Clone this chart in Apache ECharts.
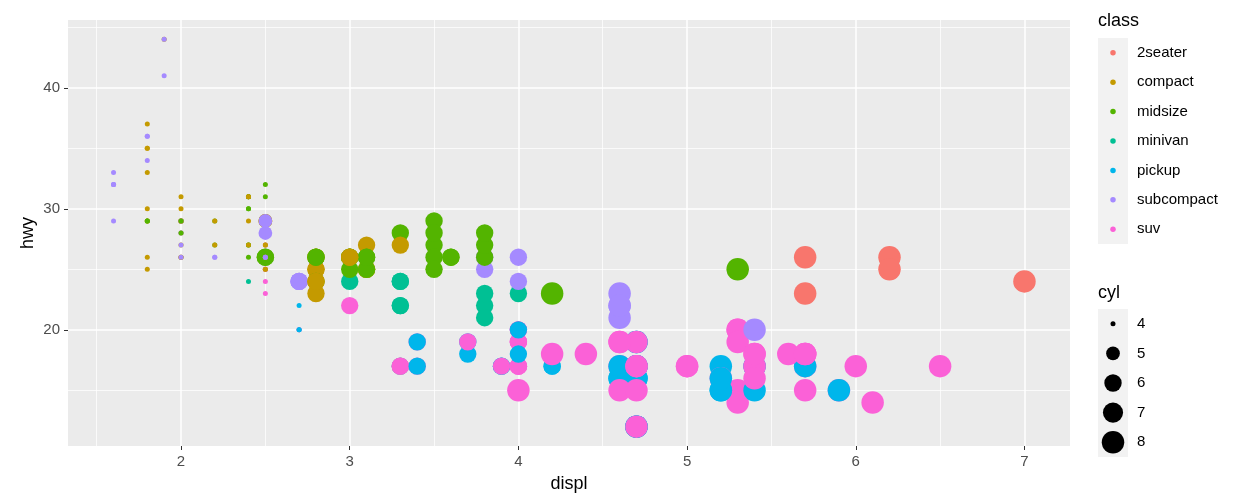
<!DOCTYPE html>
<html>
<head>
<meta charset="utf-8">
<script src="https://cdn.jsdelivr.net/npm/echarts@6/dist/echarts.min.js"></script>
<style>
html, body { margin: 0; padding: 0; background: #fff; }
#chart { width: 1233px; height: 502px; }
</style>
</head>
<body>
<div id="chart"></div>
<script>
var classes = ['2seater', 'compact', 'midsize', 'minivan', 'pickup', 'subcompact', 'suv'];
var classColors = ['#F8766D', '#C49A00', '#53B400', '#00C094', '#00B6EB', '#A58AFF', '#FB61D7'];
var cylLevels = [4, 5, 6, 7, 8];
var xMajor = [2, 3, 4, 5, 6, 7];
var xMinor = [1.5, 2.5, 3.5, 4.5, 5.5, 6.5];
var yMajor = [20, 30, 40];
var yMinor = [15, 25, 35, 45];

// mpg rows, in data order
var displ = [
    1.8, 1.8, 2.0, 2.0, 2.8, 2.8, 3.1, 1.8, 1.8, 2.0, 2.0, 2.8, 2.8, 3.1, 3.1,
    2.8, 3.1, 4.2,
    5.3, 5.3, 5.3, 5.7, 6.0,
    5.7, 5.7, 6.2, 6.2, 7.0,
    5.3, 5.3, 5.7, 6.5,
    2.4, 2.4, 3.1, 3.5, 3.6,
    2.4, 3.0, 3.3, 3.3, 3.3, 3.3, 3.3, 3.8, 3.8, 3.8, 4.0,
    3.7, 3.7, 3.9, 3.9, 4.7, 4.7, 4.7, 5.2, 5.2,
    3.9, 4.7, 4.7, 4.7, 5.2, 5.7, 5.9,
    4.7, 4.7, 4.7, 4.7, 4.7, 4.7, 5.2, 5.2, 5.7, 5.9,
    4.6, 5.4, 5.4,
    4.0, 4.0, 4.0, 4.0, 4.6, 5.0,
    4.2, 4.2, 4.6, 4.6, 4.6, 5.4, 5.4,
    3.8, 3.8, 4.0, 4.0, 4.6, 4.6, 4.6, 4.6, 5.4,
    1.6, 1.6, 1.6, 1.6, 1.6, 1.8, 1.8, 1.8, 2.0,
    2.4, 2.4, 2.4, 2.4, 2.5, 2.5, 3.3,
    2.0, 2.0, 2.0, 2.0, 2.7, 2.7, 2.7,
    3.0, 3.7, 4.0, 4.7, 4.7, 4.7, 5.7, 6.1,
    4.0, 4.2, 4.4, 4.6,
    5.4, 5.4, 5.4,
    4.0, 4.0, 4.6, 5.0,
    2.4, 2.4, 2.5, 2.5, 3.5, 3.5,
    3.0, 3.0, 3.5,
    3.3, 3.3, 4.0, 5.6,
    3.1, 3.8, 3.8, 3.8, 5.3,
    2.5, 2.5, 2.5, 2.5, 2.5, 2.5,
    2.2, 2.2, 2.5, 2.5, 2.5, 2.5, 2.5, 2.5,
    2.7, 2.7, 3.4, 3.4, 4.0, 4.7,
    2.2, 2.2, 2.4, 2.4, 3.0, 3.0, 3.5,
    2.2, 2.2, 2.4, 2.4, 3.0, 3.0, 3.3,
    1.8, 1.8, 1.8, 1.8, 1.8,
    4.7, 5.7,
    2.7, 2.7, 2.7, 3.4, 3.4, 4.0, 4.0,
    2.0, 2.0, 2.0, 2.0, 2.8,
    1.9, 2.0, 2.0, 2.0, 2.0, 2.5, 2.5, 2.8, 2.8,
    1.9, 1.9, 2.0, 2.0, 2.5, 2.5,
    1.8, 1.8, 2.0, 2.0, 2.8, 2.8, 3.6
];
var hwy = [
    29, 29, 31, 30, 26, 26, 27, 26, 25, 28, 27, 25, 25, 25, 25,
    24, 25, 23,
    20, 15, 20, 17, 17,
    26, 23, 26, 25, 24,
    19, 14, 15, 17,
    27, 30, 26, 29, 26,
    24, 24, 22, 22, 24, 24, 17, 22, 21, 23, 23,
    19, 18, 17, 17, 19, 19, 12, 17, 15,
    17, 17, 12, 17, 16, 18, 15,
    16, 12, 17, 17, 16, 12, 15, 16, 17, 15,
    17, 17, 18,
    17, 19, 17, 19, 19, 17,
    17, 17, 16, 16, 17, 15, 17,
    26, 25, 26, 24, 21, 22, 23, 22, 20,
    33, 32, 32, 29, 32, 34, 36, 36, 29,
    26, 27, 30, 31, 26, 26, 28,
    26, 29, 28, 27, 24, 24, 24,
    22, 19, 20, 17, 12, 19, 18, 14,
    15, 18, 18, 15,
    17, 16, 18,
    17, 19, 19, 17,
    29, 27, 31, 32, 27, 26,
    26, 25, 25,
    17, 17, 20, 18,
    26, 26, 27, 28, 25,
    25, 24, 27, 25, 26, 23,
    26, 26, 26, 26, 25, 27, 25, 27,
    20, 20, 19, 17, 20, 17,
    29, 27, 31, 31, 26, 26, 28,
    27, 29, 31, 31, 26, 26, 27,
    30, 33, 35, 37, 35,
    15, 18,
    20, 20, 22, 17, 19, 18, 20,
    29, 26, 29, 29, 24,
    44, 29, 26, 29, 29, 29, 29, 23, 24,
    44, 41, 29, 26, 28, 29,
    29, 29, 28, 29, 26, 26, 26
];
var cyl = [
    4, 4, 4, 4, 6, 6, 6, 4, 4, 4, 4, 6, 6, 6, 6,
    6, 6, 8,
    8, 8, 8, 8, 8,
    8, 8, 8, 8, 8,
    8, 8, 8, 8,
    4, 4, 6, 6, 6,
    4, 6, 6, 6, 6, 6, 6, 6, 6, 6, 6,
    6, 6, 6, 6, 8, 8, 8, 8, 8,
    6, 8, 8, 8, 8, 8, 8,
    8, 8, 8, 8, 8, 8, 8, 8, 8, 8,
    8, 8, 8,
    6, 6, 6, 6, 8, 8,
    6, 6, 8, 8, 8, 8, 8,
    6, 6, 6, 6, 8, 8, 8, 8, 8,
    4, 4, 4, 4, 4, 4, 4, 4, 4,
    4, 4, 4, 4, 6, 6, 6,
    4, 4, 4, 4, 6, 6, 6,
    6, 6, 6, 8, 8, 8, 8, 8,
    8, 8, 8, 8,
    8, 8, 8,
    6, 6, 8, 8,
    4, 4, 4, 4, 6, 6,
    6, 6, 6,
    6, 6, 6, 8,
    6, 6, 6, 6, 8,
    4, 4, 4, 4, 4, 4,
    4, 4, 4, 4, 4, 4, 4, 4,
    4, 4, 6, 6, 6, 8,
    4, 4, 4, 4, 6, 6, 6,
    4, 4, 4, 4, 6, 6, 6,
    4, 4, 4, 4, 4,
    8, 8,
    4, 4, 4, 6, 6, 6, 6,
    4, 4, 4, 4, 6,
    4, 4, 4, 4, 4, 5, 5, 6, 6,
    4, 4, 4, 4, 5, 5,
    4, 4, 4, 4, 6, 6, 6
];
var cls = [
    'compact', 'compact', 'compact', 'compact', 'compact', 'compact', 'compact', 'compact',
    'compact', 'compact', 'compact', 'compact', 'compact', 'compact', 'compact',
    'midsize', 'midsize', 'midsize',
    'suv', 'suv', 'suv', 'suv', 'suv',
    '2seater', '2seater', '2seater', '2seater', '2seater',
    'suv', 'suv', 'suv', 'suv',
    'midsize', 'midsize', 'midsize', 'midsize', 'midsize',
    'minivan', 'minivan', 'minivan', 'minivan', 'minivan', 'minivan', 'minivan', 'minivan',
    'minivan', 'minivan', 'minivan',
    'pickup', 'pickup', 'pickup', 'pickup', 'pickup', 'pickup', 'pickup', 'pickup', 'pickup',
    'suv', 'suv', 'suv', 'suv', 'suv', 'suv', 'suv',
    'pickup', 'pickup', 'pickup', 'pickup', 'pickup', 'pickup', 'pickup', 'pickup', 'pickup', 'pickup',
    'suv', 'suv', 'suv', 'suv', 'suv', 'suv', 'suv', 'suv', 'suv',
    'pickup', 'pickup', 'pickup', 'pickup', 'pickup', 'pickup', 'pickup',
    'subcompact', 'subcompact', 'subcompact', 'subcompact', 'subcompact', 'subcompact',
    'subcompact', 'subcompact', 'subcompact', 'subcompact', 'subcompact', 'subcompact',
    'subcompact', 'subcompact', 'subcompact', 'subcompact', 'subcompact', 'subcompact',
    'midsize', 'midsize', 'midsize', 'midsize', 'midsize', 'midsize', 'midsize',
    'subcompact', 'subcompact', 'subcompact', 'subcompact', 'subcompact', 'subcompact', 'subcompact',
    'suv', 'suv', 'suv', 'suv', 'suv', 'suv', 'suv', 'suv', 'suv', 'suv',
    'suv', 'suv', 'suv', 'suv', 'suv', 'suv', 'suv', 'suv', 'suv',
    'compact', 'compact',
    'midsize', 'midsize', 'midsize', 'midsize', 'midsize', 'midsize', 'midsize',
    'suv', 'suv', 'suv', 'suv',
    'midsize', 'midsize', 'midsize', 'midsize', 'midsize',
    'suv', 'suv', 'suv', 'suv', 'suv', 'suv',
    'subcompact', 'subcompact', 'subcompact', 'subcompact',
    'compact', 'compact', 'compact', 'compact',
    'suv', 'suv', 'suv', 'suv', 'suv', 'suv',
    'midsize', 'midsize', 'midsize', 'midsize', 'midsize', 'midsize', 'midsize',
    'compact', 'compact', 'compact', 'compact', 'compact', 'compact',
    'compact', 'compact', 'compact', 'compact', 'compact', 'compact',
    'suv', 'suv',
    'pickup', 'pickup', 'pickup', 'pickup', 'pickup', 'pickup', 'pickup',
    'compact', 'compact', 'compact', 'compact', 'compact', 'compact', 'compact',
    'compact', 'compact', 'compact', 'compact', 'compact', 'compact', 'compact',
    'subcompact', 'subcompact', 'subcompact', 'subcompact', 'subcompact', 'subcompact',
    'midsize', 'midsize', 'midsize', 'midsize', 'midsize', 'midsize', 'midsize'
];

var font = "'Liberation Sans', Arial, sans-serif";

// point diameter grows with sqrt of cyl, like scale_size
function sizeFor(c) {
    return 5 + 17.5 * Math.sqrt((c - 4) / 4);
}

var points = displ.map(function (d, i) {
    return [d, hwy[i], cyl[i], classes.indexOf(cls[i])];
});

var myChart = echarts.init(document.getElementById('chart'));

var option = {
    animation: false,
    backgroundColor: '#FFFFFF',
    title: [
        { text: 'class', left: 1098, top: 12, padding: 0,
          textStyle: { fontSize: 18, fontWeight: 'normal', color: '#000', fontFamily: font } },
        { text: 'cyl', left: 1098, top: 284, padding: 0,
          textStyle: { fontSize: 18, fontWeight: 'normal', color: '#000', fontFamily: font } }
    ],
    grid: [
        { left: 68, top: 20, width: 1002, height: 426, show: true, backgroundColor: '#EBEBEB', borderWidth: 0 },
        { left: 1098, top: 38, width: 30, height: 206, show: true, backgroundColor: '#F2F2F2', borderWidth: 0 },
        { left: 1098, top: 309, width: 30, height: 148, show: true, backgroundColor: '#F2F2F2', borderWidth: 0 }
    ],
    xAxis: [
        {
            gridIndex: 0, type: 'value', min: 1.33, max: 7.27, position: 'bottom',
            axisLine: { show: false },
            axisTick: { show: true, customValues: xMajor, length: 4, lineStyle: { color: '#333333', width: 1 } },
            axisLabel: { customValues: xMajor, margin: 8, color: '#4D4D4D', fontSize: 15, fontFamily: font },
            splitLine: { show: true, lineStyle: { color: '#FFFFFF', width: 1.5 } },
            name: 'displ', nameLocation: 'middle', nameGap: 29,
            nameTextStyle: { fontSize: 18, color: '#000', fontFamily: font }
        },
        {
            gridIndex: 0, type: 'value', min: 1.33, max: 7.27, position: 'bottom',
            axisLine: { show: false },
            axisTick: { show: false, customValues: xMinor },
            axisLabel: { show: false, customValues: xMinor },
            splitLine: { show: true, lineStyle: { color: '#FFFFFF', width: 0.75 } }
        },
        { gridIndex: 1, type: 'value', min: 0, max: 1, show: false },
        { gridIndex: 2, type: 'value', min: 0, max: 1, show: false }
    ],
    yAxis: [
        {
            gridIndex: 0, type: 'value', min: 10.4, max: 45.6,
            axisLine: { show: false },
            axisTick: { show: true, customValues: yMajor, length: 4, lineStyle: { color: '#333333', width: 1 } },
            axisLabel: { customValues: yMajor, margin: 8, color: '#4D4D4D', fontSize: 15, fontFamily: font },
            splitLine: { show: true, lineStyle: { color: '#FFFFFF', width: 1.5 } },
            name: 'hwy', nameLocation: 'middle', nameGap: 31, nameRotate: 90, nameMoveOverlap: false,
            nameTextStyle: { fontSize: 18, color: '#000', fontFamily: font }
        },
        {
            gridIndex: 0, type: 'value', min: 10.4, max: 45.6,
            axisLine: { show: false },
            axisTick: { show: false, customValues: yMinor },
            axisLabel: { show: false, customValues: yMinor },
            splitLine: { show: true, lineStyle: { color: '#FFFFFF', width: 0.75 } }
        },
        {
            gridIndex: 1, type: 'category', data: classes, inverse: true, position: 'right',
            axisLine: { show: false }, axisTick: { show: false }, splitLine: { show: false },
            axisLabel: { margin: 9, color: '#000', fontSize: 15, fontFamily: font }
        },
        {
            gridIndex: 2, type: 'category', data: cylLevels.map(String), inverse: true, position: 'right',
            axisLine: { show: false }, axisTick: { show: false }, splitLine: { show: false },
            axisLabel: { margin: 9, color: '#000', fontSize: 15, fontFamily: font }
        }
    ],
    series: [
        {
            type: 'scatter', xAxisIndex: 0, yAxisIndex: 0,
            data: points,
            symbolSize: function (v) { return sizeFor(v[2]); },
            itemStyle: { color: function (p) { return classColors[p.data[3]]; }, opacity: 1 },
            silent: true
        },
        {
            // class key
            type: 'scatter', xAxisIndex: 2, yAxisIndex: 2,
            data: classes.map(function (c, i) { return [0.5, i]; }),
            symbolSize: 5.5,
            itemStyle: { color: function (p) { return classColors[p.dataIndex]; }, opacity: 1 },
            silent: true
        },
        {
            // cyl key
            type: 'scatter', xAxisIndex: 3, yAxisIndex: 3,
            data: cylLevels.map(function (c, i) { return [0.5, i]; }),
            symbolSize: function (v) { return sizeFor(cylLevels[v[1]]); },
            itemStyle: { color: '#000000', opacity: 1 },
            silent: true
        }
    ]
};
option && myChart.setOption(option);
</script>
</body>
</html>
